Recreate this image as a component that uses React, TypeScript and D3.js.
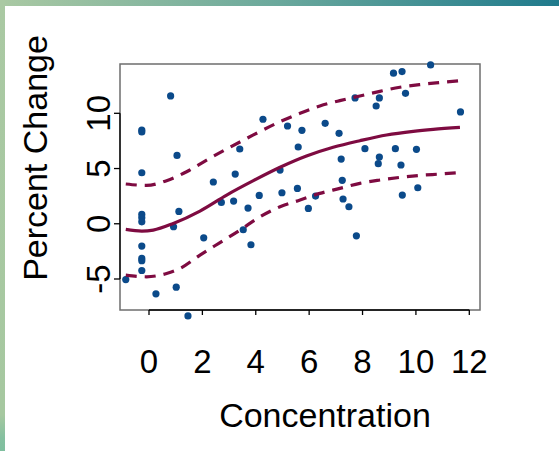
import React from "react";
import { scaleLinear, line, curveMonotoneX } from "d3";

// observed points
const concentration = [
  -0.87, -0.27, -0.27, -0.27, -0.27, -0.27, -0.27, -0.27, -0.27, -0.27, -0.27,
  0.26, 0.81, 0.92, 1.05, 1.12, 1.02, 1.46, 2.05, 2.41, 2.71, 3.17, 3.23, 3.4,
  3.53, 3.71, 3.82, 4.13, 4.27, 4.91, 4.98, 5.19, 5.56, 5.59, 5.73, 5.97, 6.24,
  6.6, 7.12, 7.2, 7.24, 7.27, 7.49, 7.72, 7.77, 8.09, 8.51, 8.63, 8.63, 8.59,
  9.16, 9.48, 9.23, 9.44, 9.49, 9.61, 10.02, 10.07, 10.55, 11.67,
];
const percentChange = [
  -5.05, 8.49, 8.31, 4.62, 0.85, 0.54, 0.18, -2.02, -3.14, -3.35, -4.23, -6.34,
  11.57, -0.27, 6.19, 1.12, -5.74, -8.34, -1.27, 3.78, 1.93, 2.05, 4.5, 6.77,
  -0.54, 1.42, -1.9, 2.57, 9.46, 4.86, 2.81, 8.85, 3.2, 6.95, 8.46, 1.39, 2.51,
  9.09, 8.19, 5.86, 3.93, 2.24, 1.54, 11.39, -1.09, 6.8, 10.66, 11.39, 6.04,
  5.44, 13.63, 13.78, 6.8, 5.32, 2.6, 11.81, 6.74, 3.26, 14.38, 10.12,
];

// fitted curve and confidence band
const fitX = [-0.87, -0.27, 0.16, 0.91, 1.91, 2.91, 3.91, 4.91, 5.9, 6.9, 7.9, 8.9, 9.9, 10.65, 11.65];
const fitY = [-0.51, -0.66, -0.57, 0.03, 1.15, 2.6, 3.9, 5.11, 6.13, 6.92, 7.52, 8.04, 8.37, 8.55, 8.73];
const upperX = [-0.87, -0.09, 0.66, 1.41, 2.16, 3.03, 3.91, 4.91, 5.66, 6.4, 7.15, 7.9, 8.65, 9.4, 10.15, 10.9, 11.59];
const upperY = [3.6, 3.47, 3.9, 4.71, 5.77, 6.92, 8.04, 9.24, 10.0, 10.66, 11.15, 11.57, 11.99, 12.36, 12.6, 12.78, 12.93];
const lowerX = [-0.87, -0.09, 0.66, 1.16, 1.91, 2.66, 3.41, 4.16, 4.91, 5.66, 6.4, 7.15, 7.9, 8.65, 9.4, 10.15, 10.9, 11.59];
const lowerY = [-4.65, -4.8, -4.5, -4.05, -2.84, -1.7, -0.57, 0.63, 1.54, 2.15, 2.75, 3.2, 3.66, 3.96, 4.2, 4.38, 4.5, 4.62];

const xTicks = [0, 2, 4, 6, 8, 10, 12];
const yTicks = [-5, 0, 5, 10];

export default function App() {
  const width = 559;
  const height = 451;
  const box = { left: 120, right: 480, top: 64, bottom: 310 };
  const font = "'Liberation Sans', Arial, Helvetica, sans-serif";
  const dotColor = "#0b4a8a";
  const lineColor = "#7e0b41";

  const xScale = scaleLinear().domain([0, 12]).range([149, 469.3]);
  const yScale = scaleLinear().domain([-5, 10]).range([279, 113.3]);

  const pathOf = (xs: number[], ys: number[]) =>
    line<number>()
      .x((d) => xScale(d))
      .y((d, i) => yScale(ys[i]))
      .curve(curveMonotoneX)(xs) || "";

  return (
    <svg
      width={width}
      height={height}
      style={{ position: "absolute", left: 0, top: 0, background: "#fff" }}
      fontFamily={font}
    >
      <defs>
        <linearGradient id="topBand" x1="0" x2="1" y1="0" y2="0">
          <stop offset="0" stopColor="#aac9a3" />
          <stop offset="0.5" stopColor="#6aa89c" />
          <stop offset="1" stopColor="#1f7a8c" />
        </linearGradient>
        <linearGradient id="leftBand" x1="0" x2="0" y1="0" y2="1">
          <stop offset="0" stopColor="#aac9a3" />
          <stop offset="0.92" stopColor="#a6c8a0" />
          <stop offset="0.97" stopColor="#85c0a0" />
          <stop offset="1" stopColor="#7fbf9f" />
        </linearGradient>
      </defs>
      <rect x={0} y={0} width={width} height={6} fill="url(#topBand)" />
      <rect x={0} y={0} width={5} height={height} fill="url(#leftBand)" />

      {/* plot box */}
      <rect
        x={box.left}
        y={box.top}
        width={box.right - box.left}
        height={box.bottom - box.top}
        fill="none"
        stroke="#6e6e6e"
        strokeWidth={1.5}
      />

      {/* x axis */}
      <line x1={xScale(0)} x2={xScale(12)} y1={box.bottom} y2={box.bottom} stroke="#000" strokeWidth={1.3} />
      {xTicks.map((t) => (
        <g key={t} transform={`translate(${xScale(t)},0)`}>
          <line y1={box.bottom} y2={box.bottom + 5} stroke="#000" strokeWidth={1.3} />
          <text y={373} textAnchor="middle" fontSize={33} fill="#000">
            {t}
          </text>
        </g>
      ))}
      <text x={325} y={427} textAnchor="middle" fontSize={34} fill="#000">
        Concentration
      </text>

      {/* y axis */}
      <line x1={box.left} x2={box.left} y1={yScale(-5)} y2={yScale(10)} stroke="#000" strokeWidth={1.3} />
      {yTicks.map((t) => (
        <g key={t} transform={`translate(0,${yScale(t)})`}>
          <line x1={box.left - 6} x2={box.left} stroke="#000" strokeWidth={1.3} />
          <text transform="translate(110,0) rotate(-90)" textAnchor="middle" fontSize={33} fill="#000">
            {t}
          </text>
        </g>
      ))}
      <text transform="translate(47,158) rotate(-90)" textAnchor="middle" fontSize={34} fill="#000">
        Percent Change
      </text>

      {/* points */}
      <g>
        {concentration.map((c, i) => (
          <circle key={i} cx={xScale(c)} cy={yScale(percentChange[i])} r={3.6} fill={dotColor} />
        ))}
      </g>

      {/* fit and band */}
      <path d={pathOf(fitX, fitY)} fill="none" stroke={lineColor} strokeWidth={3.2} />
      <path d={pathOf(upperX, upperY)} fill="none" stroke={lineColor} strokeWidth={3.2} strokeDasharray="11,8" />
      <path d={pathOf(lowerX, lowerY)} fill="none" stroke={lineColor} strokeWidth={3.2} strokeDasharray="11,8" />
    </svg>
  );
}
